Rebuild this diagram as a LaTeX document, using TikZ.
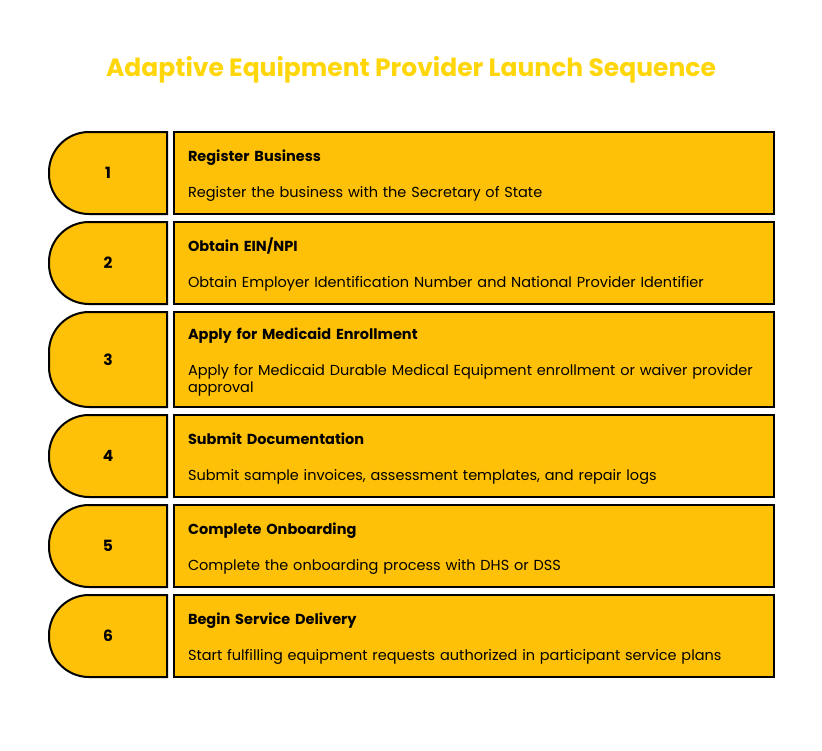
\documentclass[tikz,border=0pt]{standalone}
\usepackage{fontspec}
\setmainfont{Poppins}
\usepackage{tikz}
\usetikzlibrary{positioning}
\definecolor{stepfill}{HTML}{FFC107}
\definecolor{titlegold}{HTML}{FFD60A}
\tikzstyle{stepbody}=[rectangle,draw=black,line width=2pt,fill=stepfill,outer sep=0pt,
  minimum width=600pt,minimum height=82pt,text width=572pt,inner xsep=14pt,inner ysep=9pt,
  align=left,font=\fontsize{14.5pt}{17pt}\selectfont]
\tikzstyle{numshape}=[draw=black,line width=2pt,fill=stepfill]
\tikzstyle{numlabel}=[font=\fontsize{15.5pt}{17pt}\selectfont\bfseries]
\tikzstyle{titletext}=[font=\fontsize{25pt}{30pt}\selectfont\bfseries,text=titlegold]
\newcommand{\stephead}[1]{\rule{0pt}{18.9pt}\textbf{#1}\\[19pt]}

\begin{document}
\begin{tikzpicture}[x=1pt,y=1pt,node distance=8pt]
  \useasboundingbox (0,0) rectangle (822,-750);

  \node[titletext] (title) at (411,-70) {Adaptive Equipment Provider Launch Sequence};

  \node[stepbody,anchor=north west] (b1) at (174,-132)
    {\stephead{Register Business}Register the business with the Secretary of State\strut};
  \node[stepbody] (b2) [below=of b1]
    {\stephead{Obtain EIN/NPI}Obtain Employer Identification Number and National Provider Identifier\strut};
  \node[stepbody] (b3) [below=of b2]
    {\stephead{Apply for Medicaid Enrollment}Apply for Medicaid Durable Medical Equipment enrollment or waiver provider\\approval\strut};
  \node[stepbody] (b4) [below=of b3]
    {\stephead{Submit Documentation}Submit sample invoices, assessment templates, and repair logs\strut};
  \node[stepbody] (b5) [below=of b4]
    {\stephead{Complete Onboarding}Complete the onboarding process with DHS or DSS\strut};
  \node[stepbody] (b6) [below=of b5]
    {\stephead{Begin Service Delivery}Start fulfilling equipment requests authorized in participant service plans\strut};

  % number tabs, left side rounded
  \foreach \i in {1,...,6} {
    \draw[numshape] ([xshift=-7pt]b\i.north west) [rounded corners=40pt]
      -- ([xshift=-125pt]b\i.north west) -- ([xshift=-125pt]b\i.south west)
      [sharp corners] -- ([xshift=-7pt]b\i.south west) -- cycle;
    \node[numlabel] (n\i) at ([xshift=-66pt]b\i.west) {\i};
  }
\end{tikzpicture}
\end{document}
